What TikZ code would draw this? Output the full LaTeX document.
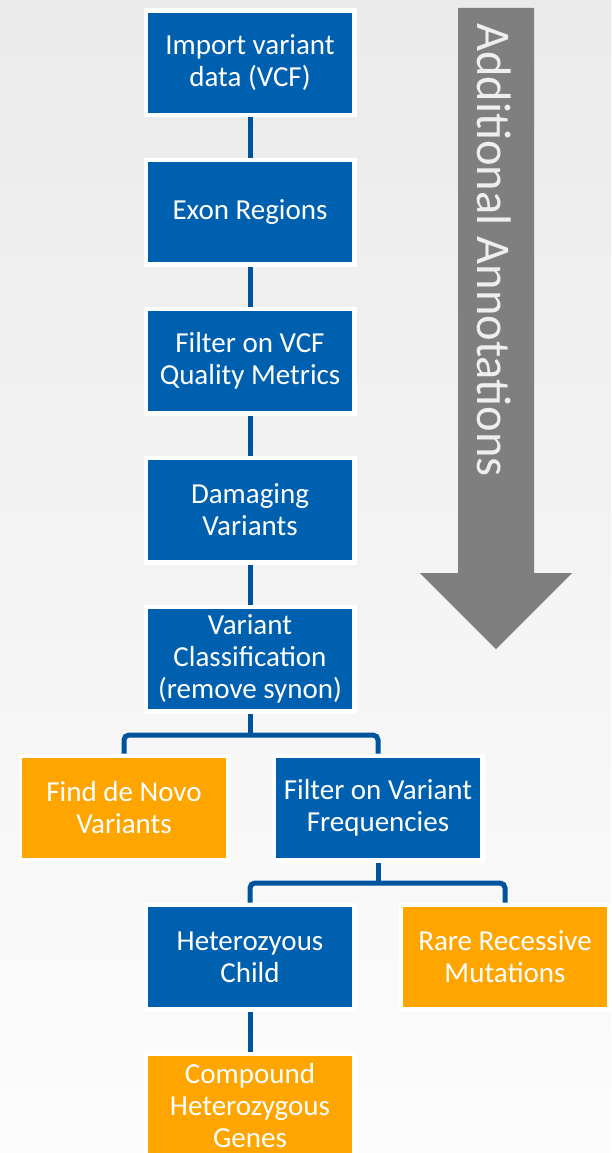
\documentclass[tikz,border=0pt]{standalone}
\usepackage{fontspec}
\setmainfont{Carlito}
\definecolor{stepblue}{RGB}{0,96,176}
\definecolor{leaforange}{RGB}{255,165,0}
\definecolor{linkblue}{RGB}{0,84,158}
\definecolor{arrowgray}{RGB}{127,127,127}
\definecolor{arrowtext}{RGB}{238,238,238}
\pgfdeclarelayer{back}
\pgfdeclarelayer{links}
\pgfsetlayers{back,links,main}

\begin{document}
\begin{tikzpicture}[x=1pt,y=-1pt,
  box/.style={draw=white, line width=4.5pt, minimum width=208.5pt,
    minimum height=104.5pt, inner sep=0pt, text=white,
    font=\fontsize{29}{32}\selectfont, align=center},
  stepbox/.style={box, fill=stepblue},
  leafbox/.style={box, fill=leaforange},
  link/.style={draw=linkblue, line width=5pt},
]
\useasboundingbox (0,0) rectangle (611,1153);
\clip (0,0) rectangle (611,1153);

% pipeline steps
\node[stepbox] (vcf)  at (250,63)   {Import variant\\data (VCF)};
\node[stepbox] (exon) at (250,212)  {Exon Regions};
\node[stepbox] (qual) at (250,361)  {Filter on VCF\\Quality Metrics};
\node[stepbox] (dmg)  at (250,510)  {Damaging\\Variants};
\node[stepbox] (cls)  at (250,659)  {Variant\\Classification\\(remove synon)};
\node[leafbox] (novo) at (124,808)  {Find de Novo\\Variants};
\node[stepbox] (freq) at (378,808)  {Filter on Variant\\Frequencies};
\node[stepbox] (het)  at (250,957)  {Heterozyous\\Child};
\node[leafbox] (rare) at (505,957)  {Rare Recessive\\Mutations};
\node[leafbox] (comp) at (250,1106) {Compound\\Heterozygous\\Genes};

\coordinate (fork1) at (250,735);
\coordinate (fork2) at (378,883);

\begin{pgfonlayer}{back}
  % soft grey-to-white backdrop
  \shade[top color=black!8, middle color=black!1, bottom color=white!99!black]
    (0,0) rectangle (611,1153);
  % annotation arrow
  \fill[arrowgray] (458,8) -- (534,8) -- (534,573) -- (572,573)
    -- (496,649) -- (420,573) -- (458,573) -- cycle;
  \node[rotate=-90, text=arrowtext, font=\fontsize{48.5}{52}\selectfont]
    (annot) at (494,250) {Additional Annotations};
\end{pgfonlayer}

\begin{pgfonlayer}{links}
  \draw[link] (vcf.south) -- (exon.north);
  \draw[link] (exon.south) -- (qual.north);
  \draw[link] (qual.south) -- (dmg.north);
  \draw[link] (dmg.south) -- (cls.north);
  \draw[link] (cls.south) -- (fork1);
  \draw[link, rounded corners=5pt] (novo.north) |- (fork1) -| (freq.north);
  \draw[link] (freq.south) -- (fork2);
  \draw[link, rounded corners=5pt] (het.north) |- (fork2) -| (rare.north);
  \draw[link] (het.south) -- (comp.north);
\end{pgfonlayer}
\end{tikzpicture}
\end{document}
